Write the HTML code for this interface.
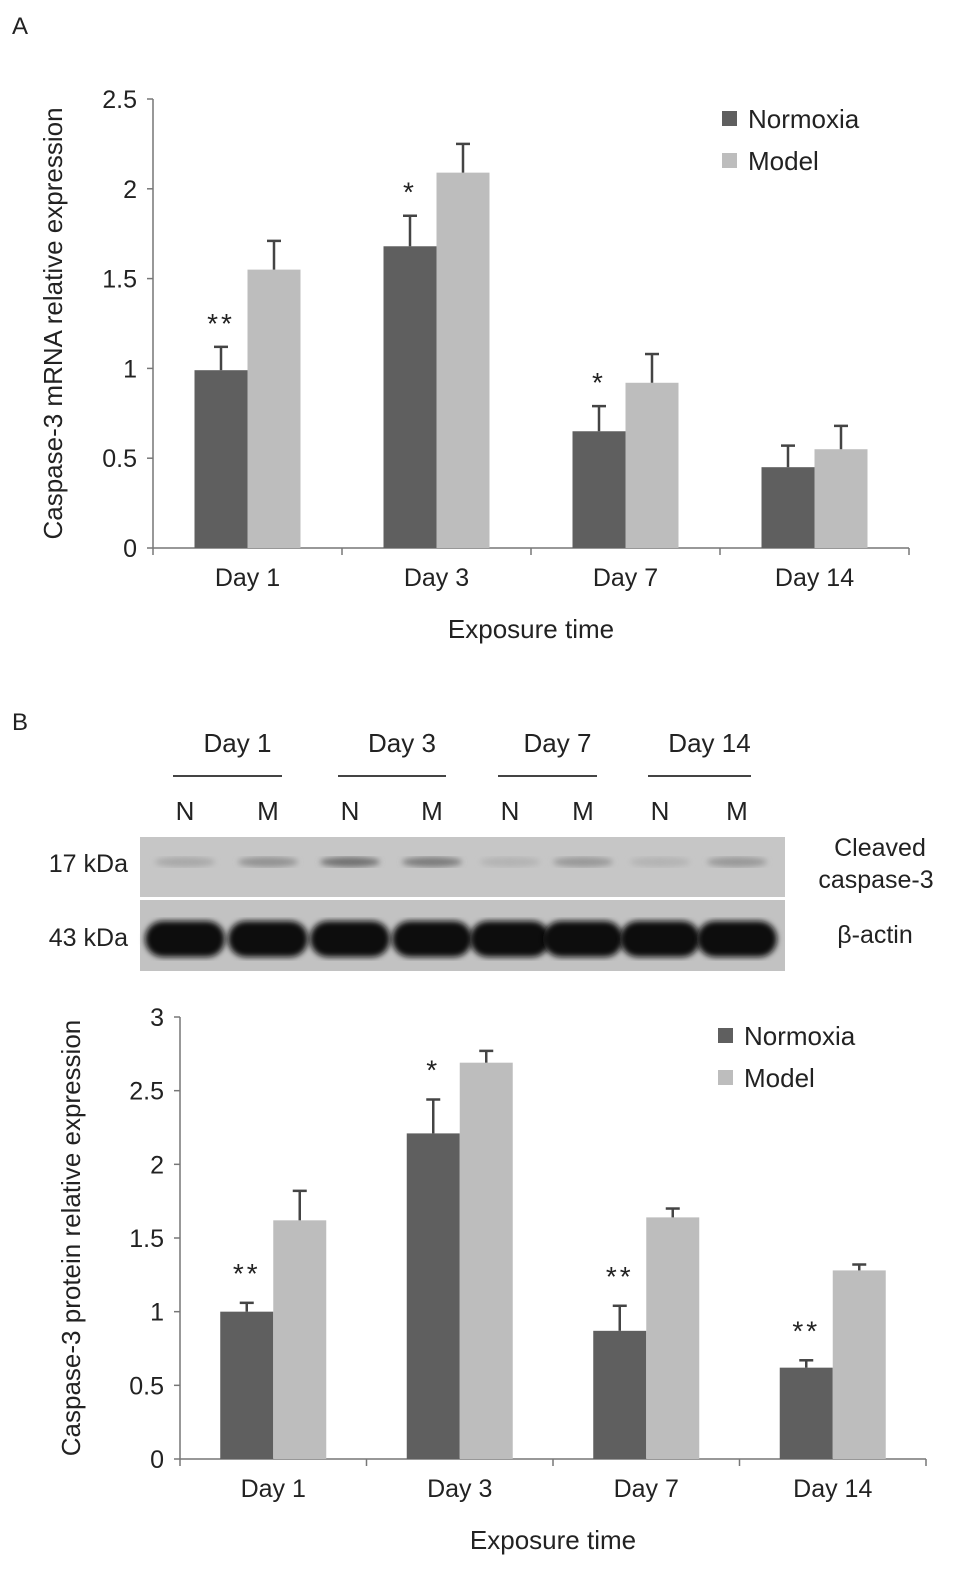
<!DOCTYPE html>
<html><head><meta charset="utf-8"><style>
body{margin:0;background:#fff;}
svg text{font-family:"Liberation Sans",sans-serif;fill:#222;}
</style></head><body>
<svg id="fig" width="969" height="1585" viewBox="0 0 969 1585" xmlns="http://www.w3.org/2000/svg">
<defs>
<filter id="blur3"><feGaussianBlur stdDeviation="3"/></filter>
</defs>
<text x="12" y="34" font-size="24">A</text>
<text x="12" y="730" font-size="24">B</text>
<g id="chartA"></g>
<g id="chartB"></g>
<g id="blot">
  <rect x="140" y="837" width="645" height="60" fill="#c6c6c6"/>
  <rect x="140" y="900" width="645" height="71" fill="#c2c2c2"/>
  <text x="128" y="872" font-size="25" text-anchor="end">17 kDa</text>
  <text x="128" y="946" font-size="25" text-anchor="end">43 kDa</text>
  <text x="880" y="856" font-size="25" text-anchor="middle">Cleaved</text>
  <text x="876" y="888" font-size="25" text-anchor="middle">caspase-3</text>
  <text x="875" y="943" font-size="25" text-anchor="middle">β-actin</text>
</g>
</svg>
<script>
const NS="http://www.w3.org/2000/svg";
function mk(parent,tag,attrs,txt){const e=document.createElementNS(NS,tag);for(const k in attrs)e.setAttribute(k,attrs[k]);if(txt!==undefined)e.textContent=txt;parent.appendChild(e);return e;}

// ---- Chart A data ----
const catsA=["Day 1","Day 3","Day 7","Day 14"];
const normA=[0.99,1.68,0.65,0.45];
const modelA=[1.55,2.09,0.92,0.55];
const normErrA=[0.13,0.17,0.14,0.12];
const modelErrA=[0.16,0.16,0.16,0.13];
const sigA=["**","*","*",""];
const ticksA=[0,0.5,1,1.5,2,2.5];
// ---- Chart B data ----
const catsB=["Day 1","Day 3","Day 7","Day 14"];
const normB=[1.0,2.21,0.87,0.62];
const modelB=[1.62,2.69,1.64,1.28];
const normErrB=[0.06,0.23,0.17,0.05];
const modelErrB=[0.2,0.08,0.06,0.04];
const sigB=["**","*","**","**"];
const ticksB=[0,0.5,1,1.5,2,2.5,3];
// blot data
const blotLanes=["N","M","N","M","N","M","N","M"];
const cleavedIntensity=[0.2,0.4,0.7,0.6,0.1,0.35,0.1,0.35];

function chart(g,o){
  const y=v=>o.y0-(v/o.ymax)*(o.y0-o.y1);
  const step=(o.x1-o.x0)/o.cats.length;
  const bw=o.bw;
  let e=mk(g,"line",{x1:o.x0,y1:o.y1,x2:o.x0,y2:o.y0,stroke:"#777","stroke-width":1.5});
  
  e=mk(g,"line",{x1:o.x0,y1:o.y0,x2:o.x1,y2:o.y0,stroke:"#777","stroke-width":1.5});
  
  o.ticks.forEach(t=>{
    mk(g,"line",{x1:o.x0-6,x2:o.x0,y1:y(t),y2:y(t),stroke:"#777","stroke-width":1.5});
    e=mk(g,"text",{x:o.x0-16,y:y(t)+9,"font-size":25,"text-anchor":"end"},String(t));
    
  });
  for(let i=0;i<=o.cats.length;i++){mk(g,"line",{x1:o.x0+i*step,x2:o.x0+i*step,y1:o.y0,y2:o.y0+7,stroke:"#777","stroke-width":1.5});}
  o.cats.forEach((c,i)=>{
    const cx=o.x0+step*(i+0.5);
    e=mk(g,"text",{x:cx,y:o.y0+38,"font-size":25,"text-anchor":"middle"},c);
    
    [[o.norm,o.nerr,"#5f5f5f",cx-bw,"normoxia"],[o.model,o.merr,"#bdbdbd",cx,"model"]].forEach(s=>{
      const v=s[0][i],er=s[1][i];
      e=mk(g,"rect",{x:s[3],y:y(v),width:bw,height:o.y0-y(v),fill:s[2]});
      
      const bx=s[3]+bw/2;
      mk(g,"line",{x1:bx,x2:bx,y1:y(v),y2:y(v+er),stroke:"#444","stroke-width":2.5});
      mk(g,"line",{x1:bx-7,x2:bx+7,y1:y(v+er),y2:y(v+er),stroke:"#444","stroke-width":2.5});
    });
    if(o.sig[i]){
      e=mk(g,"text",{x:cx-bw/2,y:y(o.norm[i]+o.nerr[i])-o.sigOff+8,"font-size":28,"text-anchor":"middle",fill:"#555","letter-spacing":"3"},o.sig[i]);
      
    }
  });
  e=mk(g,"text",{x:(o.x0+o.x1)/2,y:o.y0+90,"font-size":26,"text-anchor":"middle"},"Exposure time");
  
  e=mk(g,"text",{x:0,y:0,"font-size":26,"text-anchor":"middle",transform:`translate(${o.ytx},${(o.y0+o.y1)/2}) rotate(-90)`},o.ytitle);
  
  e=mk(g,"rect",{x:o.lx,y:o.ly-8,width:15,height:15,fill:"#5f5f5f"});
  
  e=mk(g,"text",{x:o.lx+26,y:o.ly+9,"font-size":26},"Normoxia");
  
  e=mk(g,"rect",{x:o.lx,y:o.ly+34,width:15,height:15,fill:"#bdbdbd"});
  
  e=mk(g,"text",{x:o.lx+26,y:o.ly+51,"font-size":26},"Model");
  
}
chart(document.getElementById("chartA"),{x0:153,x1:909,y0:548,y1:99,ymax:2.5,bw:53,cats:catsA,norm:normA,model:modelA,nerr:normErrA,merr:modelErrA,sig:sigA,ticks:ticksA,ytitle:"Caspase-3 mRNA relative  expression",ytx:62,lx:722,ly:119,sigOff:22});
chart(document.getElementById("chartB"),{x0:180,x1:926,y0:1459,y1:1017,ymax:3,bw:53,cats:catsB,norm:normB,model:modelB,nerr:normErrB,merr:modelErrB,sig:sigB,ticks:ticksB,ytitle:"Caspase-3 protein relative expression",ytx:80,lx:718,ly:1036,sigOff:28});

const blot=document.getElementById("blot");
const laneX=[185,268,350,432,510,583,660,737];
const grpDays=["Day 1","Day 3","Day 7","Day 14"];
grpDays.forEach((d,i)=>{
  const a=laneX[2*i]-12,b=laneX[2*i+1]+14;
  let e=mk(blot,"text",{x:(a+b)/2+10,y:752,"font-size":26,"text-anchor":"middle"},d);
  
  e=mk(blot,"line",{x1:a,x2:b,y1:776,y2:776,stroke:"#444","stroke-width":2});
  
});
blotLanes.forEach((l,i)=>{
  let e=mk(blot,"text",{x:laneX[i],y:820,"font-size":26,"text-anchor":"middle"},l);
  
  const k=cleavedIntensity[i];
  const c=Math.round(190-110*k);
  e=mk(blot,"ellipse",{cx:laneX[i],cy:862,rx:30,ry:5,fill:`rgb(${c},${c},${c})`,filter:"url(#blur3)"});
  
  e=mk(blot,"rect",{x:laneX[i]-40,y:921,width:80,height:36,rx:18,fill:"#111",filter:"url(#blur3)"});
  
});
</script>
</body></html>
